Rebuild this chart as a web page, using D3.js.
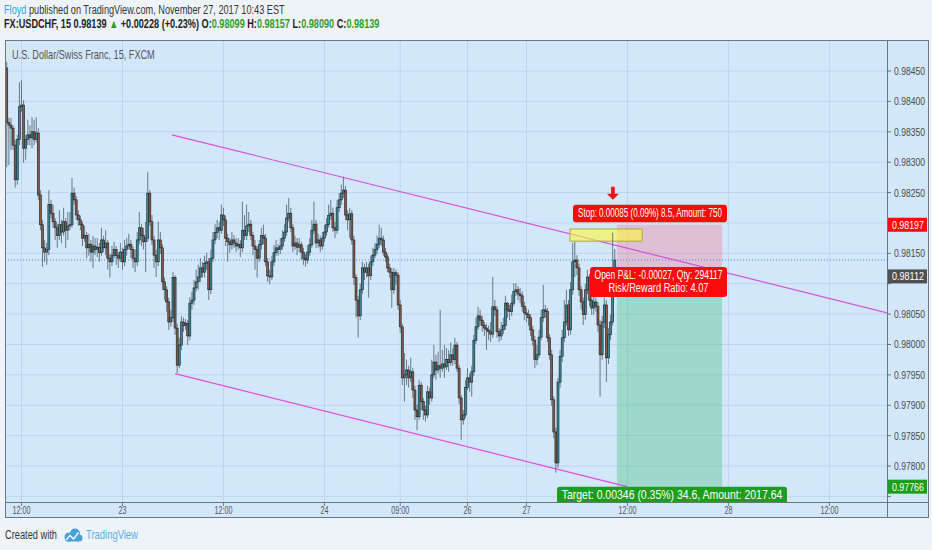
<!DOCTYPE html>
<html><head><meta charset="utf-8">
<script src="https://cdn.jsdelivr.net/npm/d3@7"></script>
<style>
html,body{margin:0;padding:0;background:#eef3f8;}
svg{display:block;font-family:"Liberation Sans",Arial,sans-serif;}
</style></head><body>
<svg id="c" width="932" height="550"></svg>
<script>
// ---------------- data ----------------
const firstOpen = 0.98455;
const closes = [
0.98365,0.98361,0.98356,0.98328,0.98271,0.98337,0.98391,0.98394,0.98323,0.98337,
0.98345,0.98340,0.98350,0.98337,0.98348,0.98246,0.98197,0.98159,0.98152,0.98156,
0.98230,0.98216,0.98202,0.98192,0.98179,0.98197,0.98185,0.98202,0.98188,0.98195,
0.98197,0.98249,0.98238,0.98213,0.98205,0.98197,0.98175,0.98179,0.98159,0.98165,
0.98152,0.98162,0.98156,0.98160,0.98151,0.98172,0.98159,0.98167,0.98142,0.98136,
0.98147,0.98156,0.98146,0.98142,0.98152,0.98136,0.98156,0.98162,0.98165,0.98156,
0.98142,0.98136,0.98172,0.98192,0.98179,0.98169,0.98175,0.98249,0.98202,0.98172,
0.98147,0.98136,0.98172,0.98159,0.98103,0.98090,0.98070,0.98037,0.98044,0.98110,
0.98027,0.97966,0.97999,0.98037,0.98031,0.98035,0.98014,0.98068,0.98073,0.98093,
0.98103,0.98111,0.98126,0.98119,0.98133,0.98136,0.98090,0.98142,0.98172,0.98184,
0.98192,0.98188,0.98213,0.98205,0.98175,0.98169,0.98164,0.98172,0.98167,0.98162,
0.98165,0.98159,0.98188,0.98179,0.98195,0.98198,0.98179,0.98162,0.98156,0.98142,
0.98164,0.98179,0.98175,0.98136,0.98113,0.98111,0.98136,0.98151,0.98159,0.98156,
0.98162,0.98175,0.98185,0.98208,0.98216,0.98192,0.98162,0.98167,0.98160,0.98164,
0.98152,0.98142,0.98139,0.98152,0.98164,0.98188,0.98198,0.98167,0.98172,0.98162,
0.98175,0.98185,0.98197,0.98212,0.98216,0.98192,0.98188,0.98225,0.98238,0.98249,
0.98254,0.98213,0.98205,0.98215,0.98172,0.98110,0.98073,0.98047,0.98090,0.98126,
0.98119,0.98126,0.98113,0.98136,0.98147,0.98156,0.98165,0.98175,0.98172,0.98152,
0.98144,0.98126,0.98119,0.98090,0.98118,0.98114,0.98065,0.98029,0.97945,0.97950,
0.97958,0.97945,0.97955,0.97925,0.97892,0.97881,0.97933,0.97906,0.97892,0.97884,
0.97922,0.97912,0.97950,0.97971,0.97958,0.97965,0.97961,0.97968,0.97963,0.97975,
0.97970,0.97983,0.97975,0.97999,0.97961,0.97912,0.97876,0.97884,0.97929,0.97945,
0.97938,0.97955,0.98007,0.98029,0.98047,0.98040,0.98031,0.98027,0.98024,0.98021,
0.98017,0.98062,0.98057,0.98021,0.98014,0.98024,0.98031,0.98068,0.98057,0.98054,
0.98068,0.98087,0.98090,0.98083,0.98080,0.98063,0.98052,0.98049,0.98044,0.98024,
0.98007,0.97975,0.97983,0.98012,0.98044,0.98057,0.98054,0.98011,0.97983,0.97909,
0.97856,0.97805,0.97938,0.97980,0.98011,0.98037,0.98065,0.98024,0.98090,0.98136,
0.98139,0.98126,0.98090,0.98070,0.98049,0.98090,0.98111,0.98073,0.98060,0.98070,
0.98063,0.98032,0.97983,0.98037,0.98065,0.97978,0.98016,0.98037,0.98099,0.98139];
const highs = [
0.98465,0.98373,0.98373,0.98361,0.98337,0.98345,0.98432,0.98435,0.98402,0.98345,
0.98370,0.98361,0.98374,0.98370,0.98374,0.98356,0.98254,0.98205,0.98172,0.98167,
0.98254,0.98238,0.98230,0.98208,0.98198,0.98221,0.98205,0.98225,0.98208,0.98218,
0.98218,0.98274,0.98258,0.98244,0.98221,0.98212,0.98202,0.98195,0.98185,0.98182,
0.98172,0.98179,0.98175,0.98175,0.98167,0.98192,0.98179,0.98188,0.98172,0.98149,
0.98162,0.98169,0.98162,0.98152,0.98167,0.98159,0.98172,0.98175,0.98182,0.98172,
0.98162,0.98156,0.98185,0.98218,0.98198,0.98192,0.98202,0.98284,0.98254,0.98213,
0.98179,0.98156,0.98202,0.98185,0.98165,0.98110,0.98096,0.98077,0.98057,0.98119,
0.98114,0.98034,0.98011,0.98047,0.98044,0.98042,0.98040,0.98078,0.98087,0.98106,
0.98123,0.98131,0.98142,0.98136,0.98146,0.98151,0.98142,0.98156,0.98185,0.98198,
0.98205,0.98202,0.98230,0.98225,0.98212,0.98182,0.98175,0.98185,0.98180,0.98175,
0.98175,0.98172,0.98235,0.98213,0.98230,0.98218,0.98205,0.98185,0.98172,0.98162,
0.98172,0.98192,0.98197,0.98182,0.98142,0.98123,0.98146,0.98164,0.98172,0.98165,
0.98175,0.98188,0.98198,0.98230,0.98241,0.98225,0.98198,0.98179,0.98175,0.98175,
0.98169,0.98159,0.98149,0.98164,0.98175,0.98205,0.98235,0.98205,0.98182,0.98179,
0.98185,0.98197,0.98208,0.98230,0.98238,0.98225,0.98202,0.98238,0.98249,0.98263,
0.98276,0.98261,0.98221,0.98225,0.98221,0.98179,0.98116,0.98080,0.98100,0.98136,
0.98133,0.98136,0.98133,0.98146,0.98159,0.98167,0.98179,0.98197,0.98192,0.98179,
0.98159,0.98149,0.98133,0.98126,0.98126,0.98123,0.98119,0.98073,0.98034,0.97986,
0.97975,0.97965,0.97978,0.97961,0.97932,0.97901,0.97942,0.97938,0.97912,0.97899,
0.97932,0.97929,0.97975,0.97999,0.97983,0.97988,0.98057,0.97991,0.97999,0.97994,
0.97991,0.98003,0.97994,0.98011,0.98004,0.97966,0.97917,0.97892,0.97942,0.97961,
0.97952,0.97965,0.98016,0.98044,0.98062,0.98057,0.98047,0.98037,0.98034,0.98031,
0.98037,0.98111,0.98073,0.98063,0.98027,0.98037,0.98044,0.98080,0.98070,0.98065,
0.98082,0.98101,0.98101,0.98096,0.98093,0.98087,0.98070,0.98060,0.98057,0.98050,
0.98031,0.98014,0.97999,0.98024,0.98057,0.98098,0.98065,0.98060,0.98017,0.97991,
0.97915,0.97863,0.97945,0.97991,0.98024,0.98073,0.98090,0.98073,0.98103,0.98167,
0.98169,0.98147,0.98133,0.98096,0.98077,0.98100,0.98123,0.98116,0.98080,0.98082,
0.98077,0.98070,0.98040,0.98047,0.98077,0.98073,0.98027,0.98049,0.98184,0.98157];
const lows = [
0.98292,0.98295,0.98320,0.98320,0.98258,0.98263,0.98328,0.98383,0.98299,0.98304,
0.98328,0.98328,0.98323,0.98328,0.98332,0.98238,0.98188,0.98128,0.98136,0.98131,
0.98147,0.98208,0.98192,0.98172,0.98159,0.98172,0.98167,0.98179,0.98159,0.98172,
0.98188,0.98192,0.98230,0.98205,0.98195,0.98188,0.98162,0.98169,0.98142,0.98146,
0.98136,0.98126,0.98147,0.98144,0.98136,0.98146,0.98152,0.98147,0.98123,0.98110,
0.98129,0.98142,0.98131,0.98126,0.98136,0.98123,0.98129,0.98146,0.98156,0.98142,
0.98126,0.98119,0.98129,0.98165,0.98162,0.98156,0.98119,0.98169,0.98195,0.98164,
0.98126,0.98111,0.98129,0.98149,0.98090,0.98073,0.98054,0.98024,0.98029,0.98037,
0.98016,0.97953,0.97961,0.97991,0.98021,0.98024,0.97999,0.98007,0.98057,0.98065,
0.98087,0.98090,0.98103,0.98110,0.98110,0.98123,0.98073,0.98083,0.98136,0.98165,
0.98175,0.98172,0.98182,0.98195,0.98162,0.98136,0.98151,0.98156,0.98159,0.98152,
0.98156,0.98144,0.98152,0.98172,0.98172,0.98185,0.98172,0.98147,0.98123,0.98110,
0.98136,0.98156,0.98165,0.98129,0.98103,0.98099,0.98106,0.98129,0.98146,0.98146,
0.98149,0.98156,0.98169,0.98179,0.98202,0.98185,0.98152,0.98156,0.98147,0.98152,
0.98139,0.98131,0.98128,0.98133,0.98146,0.98159,0.98182,0.98159,0.98159,0.98152,
0.98156,0.98169,0.98179,0.98192,0.98205,0.98185,0.98175,0.98182,0.98218,0.98230,
0.98241,0.98205,0.98188,0.98175,0.98164,0.98098,0.98044,0.98011,0.98040,0.98083,
0.98106,0.98110,0.98077,0.98106,0.98129,0.98142,0.98149,0.98159,0.98162,0.98146,
0.98136,0.98119,0.98110,0.98060,0.98083,0.98098,0.98057,0.98019,0.97933,0.97906,
0.97933,0.97929,0.97938,0.97912,0.97876,0.97859,0.97876,0.97892,0.97876,0.97873,
0.97879,0.97901,0.97906,0.97945,0.97942,0.97952,0.97945,0.97955,0.97945,0.97958,
0.97955,0.97965,0.97965,0.97968,0.97955,0.97902,0.97843,0.97868,0.97879,0.97925,
0.97922,0.97914,0.97948,0.98001,0.98024,0.98031,0.98021,0.98014,0.97991,0.98007,
0.98004,0.98011,0.98047,0.98011,0.98004,0.98007,0.98017,0.98024,0.98044,0.98040,
0.98047,0.98063,0.98080,0.98073,0.98068,0.98054,0.98040,0.98037,0.98031,0.98014,
0.97998,0.97961,0.97966,0.97978,0.98007,0.98037,0.98044,0.98004,0.97975,0.97899,
0.97846,0.97789,0.97797,0.97929,0.97971,0.98004,0.98031,0.98014,0.98016,0.98082,
0.98111,0.98114,0.98080,0.98057,0.98032,0.98040,0.98083,0.98063,0.98049,0.98049,
0.98054,0.98021,0.97914,0.97975,0.98027,0.97938,0.97968,0.98007,0.98031,0.98090];

const xTickLabels = ["12:00","23","12:00","24","09:00","26","27","12:00","28","12:00"];
const xTickBars   = [7, 55, 103, 151, 187, 219, 247, 295, 343, 391];
const yTickValues = [0.9775,0.9780,0.9785,0.9790,0.9795,0.9800,0.9805,0.9810,0.9815,0.9820,0.9825,0.9830,0.9835,0.9840,0.9845];

const upperTrend = [{bar:78.5, price:0.98345},{bar:418.4, price:0.98052}];
const lowerTrend = [{bar:80, price:0.97952},{bar:294.8, price:0.97766}];
const highlightBox = {bar0:267.7, bar1:302, top:0.98190, bottom:0.98170};
const arrowMark = {bar:288.1, price:0.98238};
const lastPrice = 0.98139;
const position = {bar0:290, bar1:340, entry:0.98112, stop:0.98197, target:0.97766};

// ---------------- layout ----------------
const L=5, R=887, T=40, B=502, AXR=929, XB=518;
const svg = d3.select("#c");
const x = d3.scaleLinear().domain([7,391]).range([21.5,829.4]);
const y = d3.scaleLinear().domain([0.9775,0.9845]).range([496.4,71]);

// horizontally compressed text: scale measured width to target width
function fitText(parent, parts, x0, y0, size, width, opts={}){
  const gg = parent.append("g");
  const t = gg.append("text").attr("x",0).attr("y",0).attr("font-size",size)
    .attr("font-weight",opts.weight||"normal").attr("text-anchor",opts.anchor||"start");
  if (typeof parts === "string") t.attr("fill",opts.fill||"#333").text(parts);
  else parts.forEach(([s,c])=>t.append("tspan").attr("fill",c).text(s));
  const len = t.node().getComputedTextLength();
  gg.attr("transform",`translate(${x0},${y0}) scale(${width/len},1)`);
  return gg;
}

svg.append("rect").attr("width",932).attr("height",550).attr("fill","#eef3f8");
svg.append("rect").attr("x",L).attr("y",T).attr("width",AXR-L).attr("height",XB-T).attr("fill","#d3e7fb");

svg.append("defs").append("clipPath").attr("id","pc")
  .append("rect").attr("x",L).attr("y",T).attr("width",R-L).attr("height",B-T);
const g = svg.append("g").attr("clip-path","url(#pc)");

// grid
g.selectAll(".hg").data(yTickValues).enter().append("line")
 .attr("x1",L).attr("x2",R).attr("y1",d=>y(d)).attr("y2",d=>y(d))
 .attr("stroke","#bcd5ee").attr("stroke-width",1);
g.selectAll(".vg").data(xTickBars).enter().append("line")
 .attr("x1",d=>x(d)).attr("x2",d=>x(d)).attr("y1",T).attr("y2",B)
 .attr("stroke","#bcd5ee").attr("stroke-width",1);

// position zones
g.append("rect").attr("x",x(position.bar0)).attr("width",x(position.bar1)-x(position.bar0))
 .attr("y",y(position.stop)).attr("height",y(position.entry)-y(position.stop))
 .attr("fill","rgba(255,85,110,0.27)");
g.append("rect").attr("x",x(position.bar0)).attr("width",x(position.bar1)-x(position.bar0))
 .attr("y",y(position.entry)).attr("height",y(position.target)-y(position.entry))
 .attr("fill","rgba(60,190,120,0.36)");

// last price dotted line
g.append("line").attr("x1",L).attr("x2",R).attr("y1",y(lastPrice)).attr("y2",y(lastPrice))
 .attr("stroke","#3f8fdc").attr("stroke-width",1).attr("stroke-dasharray","1,2");

// trend lines
const tl = d3.line().x(d=>x(d.bar)).y(d=>y(d.price));
[upperTrend, lowerTrend].forEach(t=>{
  g.append("path").attr("d",tl(t)).attr("fill","none").attr("stroke","#de50de").attr("stroke-width",1.2);
});

// highlight box
g.append("rect").attr("x",x(highlightBox.bar0)).attr("width",x(highlightBox.bar1)-x(highlightBox.bar0))
 .attr("y",y(highlightBox.top)).attr("height",y(highlightBox.bottom)-y(highlightBox.top))
 .attr("fill","rgba(255,250,60,0.6)").attr("stroke","#a9a93a").attr("stroke-width",1);

// candles
const bars = closes.map((c,i)=>({i, o: i===0?firstOpen:closes[i-1], h: highs[i], l: lows[i], c}));
const cg = g.append("g");
cg.selectAll(".w").data(bars).enter().append("line")
 .attr("x1",d=>x(d.i)).attr("x2",d=>x(d.i))
 .attr("y1",d=>y(Math.max(d.h,d.o,d.c))).attr("y2",d=>y(Math.min(d.l,d.o,d.c)))
 .attr("stroke","#4c5e69").attr("stroke-opacity",0.8).attr("stroke-width",1);
cg.selectAll(".b").data(bars).enter().append("rect")
 .attr("x",d=>x(d.i)-1).attr("width",2)
 .attr("y",d=>y(Math.max(d.o,d.c)))
 .attr("height",d=>Math.max(1,Math.abs(y(d.o)-y(d.c))))
 .attr("fill",d=>d.c>=d.o?"#3a8a9b":"#8a5946")
 .attr("stroke","#1b2124").attr("stroke-width",0.6);

// arrow marker
const ax = x(arrowMark.bar), ay = y(arrowMark.price);
g.append("path").attr("d",`M${ax-1.8},${ay-13} L${ax+1.8},${ay-13} L${ax+1.8},${ay-6} L${ax+6},${ay-6} L${ax},${ay} L${ax-6},${ay-6} L${ax-1.8},${ay-6} Z`)
 .attr("fill","#f01010");

// position labels
function label(cx, cy, w, lines, widths, fill){
  const h = lines.length*12.5+5;
  g.append("rect").attr("x",cx-w/2).attr("y",cy).attr("width",w).attr("height",h)
   .attr("rx",3).attr("fill",fill);
  lines.forEach((t,k)=>{
    fitText(g, t, cx, cy+12.5+k*12.5, 12.5, widths[k], {anchor:"middle", fill:"#fff"});
  });
}
label(650, y(position.stop)-20, 154, ["Stop: 0.00085 (0.09%) 8.5, Amount: 750"], [144], "#ff0a0a");
label(658.5, y(position.entry)-9.5, 137, ["Open P&L: -0.00027, Qty: 294117","Risk/Reward Ratio: 4.07"], [128,100], "#ff0a0a");
label(672, y(position.target), 230, ["Target: 0.00346 (0.35%) 34.6, Amount: 2017.64"], [221], "#1c9e1c");

// legend title
fitText(svg, "U.S. Dollar/Swiss Franc, 15, FXCM", 12, 59, 12.5, 143, {fill:"#555"});

// frame
svg.append("rect").attr("x",L+0.5).attr("y",T+0.5).attr("width",AXR-L-1).attr("height",XB-T-1)
 .attr("fill","none").attr("stroke","#6a7782");
svg.append("line").attr("x1",R+0.5).attr("x2",R+0.5).attr("y1",T).attr("y2",XB).attr("stroke","#6a7782");
svg.append("line").attr("x1",L).attr("x2",AXR).attr("y1",B+0.5).attr("y2",B+0.5).attr("stroke","#6a7782");

// y axis
const ya = svg.append("g");
const boxed = [position.stop, position.entry, position.target];
yTickValues.forEach(v=>{
  const yy = y(v);
  if (yy < T+4 || yy > B-2) return;
  ya.append("line").attr("x1",R).attr("x2",R+4).attr("y1",yy).attr("y2",yy).attr("stroke","#6a7782");
  if (boxed.some(b=>Math.abs(y(b)-yy) < 12)) return;
  fitText(ya, v.toFixed(5), 894, yy+4, 11, 31, {fill:"#4a4a4a"});
});
function axLabel(v, fill){
  const yy = y(v);
  ya.append("rect").attr("x",888).attr("y",yy-7).attr("width",39).attr("height",14).attr("fill",fill);
  fitText(ya, v.toFixed(5), 892, yy+4, 11.5, 32, {fill:"#fff"});
}
axLabel(position.stop, "#ff0a0a");
axLabel(position.entry, "#505050");
axLabel(position.target, "#1c9e1c");

// x axis
const xa = svg.append("g");
xTickBars.forEach((b,k)=>{
  const xx = x(b), t = xTickLabels[k];
  xa.append("line").attr("x1",xx).attr("x2",xx).attr("y1",B).attr("y2",B+4).attr("stroke","#6a7782");
  fitText(xa, t, xx, 514, 11, t.length>2?18:8, {anchor:"middle", fill:"#555"});
});

// header
const G = "#2f9e2f";
fitText(svg, [["Floyd","#3d9be0"],[" published on TradingView.com, November 27, 2017 10:43 EST","#333"]], 4, 13.5, 12.5, 281);
fitText(svg, [["FX:USDCHF, 15  0.98139 ","#222"],["▲",G],[" +0.00228 (+0.23%) O:","#222"],["0.98099",G],
 [" H:","#222"],["0.98157",G],[" L:","#222"],["0.98090",G],[" C:","#222"],["0.98139",G]], 4, 27.5, 12.5, 376, {weight:"bold"});

// footer
fitText(svg, "Created with", 5, 539, 12.5, 52, {fill:"#333"});
const lg = svg.append("g");
lg.append("circle").attr("cx",69).attr("cy",537).attr("r",4.5).attr("fill","#47a0dc");
lg.append("circle").attr("cx",75).attr("cy",533.5).attr("r",5).attr("fill","#47a0dc");
lg.append("circle").attr("cx",79).attr("cy",538).attr("r",3.5).attr("fill","#47a0dc");
lg.append("rect").attr("x",65).attr("y",537).attr("width",15).attr("height",4.5).attr("rx",2).attr("fill","#47a0dc");
lg.append("path").attr("d","M66,540 L70,535.5 L73.5,539 L78.5,532.5").attr("fill","none").attr("stroke","#fff").attr("stroke-width",1.3);
fitText(svg, "TradingView", 86, 539, 12.5, 52, {fill:"#5aaee6"});
</script>
</body></html>
